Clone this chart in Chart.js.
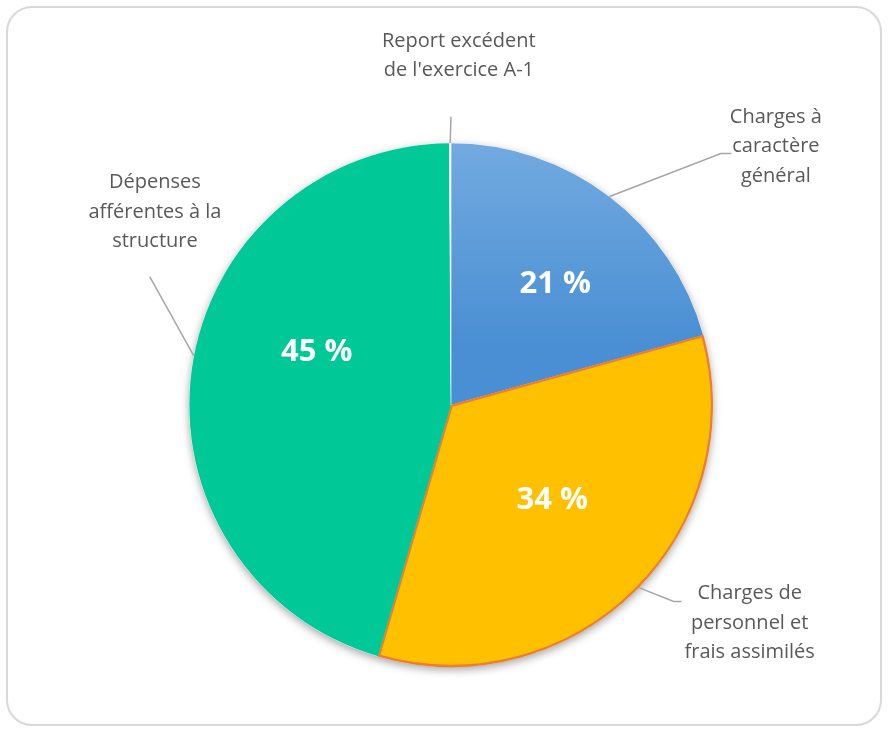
<!DOCTYPE html>
<html>
<head>
<meta charset="utf-8">
<script src="https://cdn.jsdelivr.net/npm/chart.js@4/dist/chart.umd.min.js"></script>
<style>
html,body{margin:0;padding:0;background:#fff;}
#wrap{position:relative;width:890px;height:734px;}
#frame{position:absolute;left:6px;top:6px;width:876px;height:720px;border:2px solid #d9d9d9;border-radius:26px;box-sizing:border-box;}
canvas{position:absolute;left:0;top:0;}
</style>
</head>
<body>
<div id="wrap"><div id="frame"></div><canvas id="c" width="890" height="734"></canvas></div>
<script>
const categories = [
  "Charges à caractère général",
  "Charges de personnel et frais assimilés",
  "Dépenses afférentes à la structure",
  "Report excédent de l'exercice A-1"
];
const labelLines = [
  ["Charges à", "caractère", "général"],
  ["Charges de", "personnel et", "frais assimilés"],
  ["Dépenses", "afférentes à la", "structure"],
  ["Report excédent", "de l'exercice A-1"]
];
const values = [20.7, 33.8, 45.4, 0.1];
const showPercent = [true, true, true, false];

const sliceColors = ["#5b9bd5", "#ffc000", "#00c896", "#ffffff"];
const borderColors = ["#5b9bd5", "#ed7d31", "#00c896", "#ffffff"];

// label placement: [dx, dy] from pie centre in units of radius, and leader line end
const labelPos = [
  {tx: 1.24, ty: -1.10, lx: 1.03, ly: -0.96, hx: 1.07},
  {tx: 1.14, ty: 0.72, lx: 0.85, ly: 0.75, hx: 0.88},
  {tx: -1.13, ty: -0.85, lx: -1.15, ly: -0.49, hx: null},
  {tx: 0.03, ty: -1.39, lx: 0.0, ly: -1.10, hx: null}
];
const pctPos = [
  {r: 0.61, a: 40.7},
  {r: 0.53, a: 133.2},
  {r: 0.55, a: 291.4}
];

const labelPlugin = {
  id: 'labelPlugin',
  beforeDatasetsDraw(chart) {
    const ctx = chart.ctx;
    ctx.save();
    ctx.shadowColor = 'rgba(0,0,0,0.35)';
    ctx.shadowBlur = 9;
    ctx.shadowOffsetY = 3;
    const arc = chart.getDatasetMeta(0).data[0];
    ctx.beginPath();
    ctx.arc(arc.x, arc.y, arc.outerRadius, 0, Math.PI * 2);
    ctx.fillStyle = '#ffffff';
    ctx.fill();
    ctx.restore();
  },
  afterDatasetsDraw(chart) {
    const ctx = chart.ctx;
    const meta = chart.getDatasetMeta(0);
    const a0 = meta.data[0];
    const cx = a0.x, cy = a0.y, R = a0.outerRadius;
    const total = values.reduce((s, v) => s + v, 0);
    ctx.save();
    // leader lines
    ctx.strokeStyle = '#a6a6a6';
    ctx.lineWidth = 1.5;
    meta.data.forEach((arc, i) => {
      const p = labelPos[i];
      let mid = (arc.startAngle + arc.endAngle) / 2;
      if (i === 2) mid = Math.atan2(-0.18, -0.94);
      if (i === 1) mid = Math.atan2(0.70, 0.72);
      const ex = cx + Math.cos(mid) * R, ey = cy + Math.sin(mid) * R;
      ctx.beginPath();
      ctx.moveTo(ex, ey);
      ctx.lineTo(cx + p.lx * R, cy + p.ly * R);
      if (p.hx !== null) ctx.lineTo(cx + p.hx * R, cy + p.ly * R);
      ctx.stroke();
    });
    // category labels
    ctx.fillStyle = '#595959';
    ctx.font = '20px "Open Sans", Lato, sans-serif';
    ctx.textAlign = 'center';
    ctx.textBaseline = 'middle';
    labelLines.forEach((lines, i) => {
      const p = labelPos[i];
      const x = cx + p.tx * R;
      const y0 = cy + p.ty * R;
      lines.forEach((t, k) => ctx.fillText(t, x, y0 + k * 29.5));
    });
    // percentage labels
    ctx.fillStyle = '#ffffff';
    ctx.font = 'bold 31px "Open Sans", Lato, sans-serif';
    values.forEach((v, i) => {
      if (!showPercent[i]) return;
      const p = pctPos[i];
      const ang = (p.a - 90) * Math.PI / 180;
      ctx.fillText(Math.round(v / total * 100) + ' %', cx + Math.cos(ang) * p.r * R, cy + Math.sin(ang) * p.r * R);
    });
    ctx.restore();
  }
};

new Chart(document.getElementById('c'), {
  type: 'pie',
  data: {
    labels: categories,
    datasets: [{
      data: values,
      backgroundColor(ctx) {
        const chart = ctx.chart;
        const area = chart.chartArea;
        if (ctx.dataIndex === 0 && area) {
          const g = chart.ctx.createLinearGradient(0, area.top, 0, area.top + area.height * 0.38);
          g.addColorStop(0, '#72aae0');
          g.addColorStop(1, '#4a8fd3');
          return g;
        }
        return sliceColors[ctx.dataIndex];
      },
      borderColor: borderColors,
      borderWidth: [0, 2, 0, 1.5],
      borderAlign: 'inner'
    }]
  },
  options: {
    responsive: false,
    animation: false,
    events: [],
    layout: {padding: {top: 143, bottom: 67, left: 12, right: 0}},
    plugins: {legend: {display: false}, tooltip: {enabled: false}}
  },
  plugins: [labelPlugin]
});
</script>
</body>
</html>
